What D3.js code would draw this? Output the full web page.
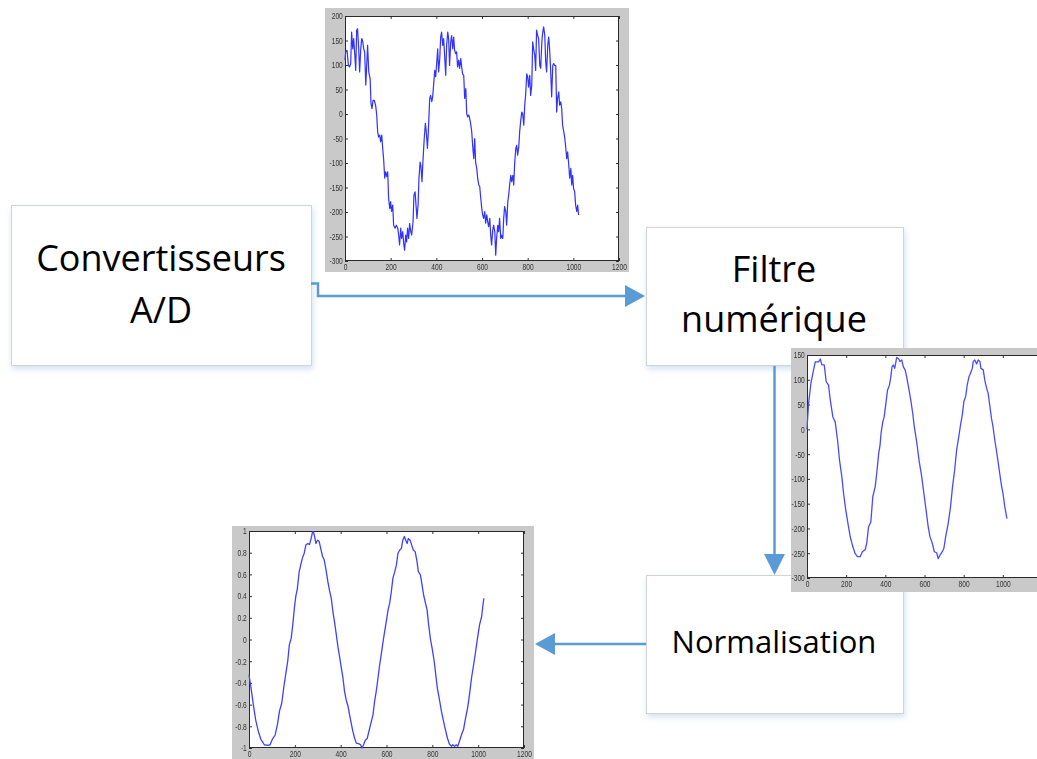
<!DOCTYPE html>
<html>
<head>
<meta charset="utf-8">
<script src="https://cdn.jsdelivr.net/npm/d3@7"></script>
<style>
  html, body { margin: 0; padding: 0; background: #ffffff; }
  svg { display: block; }
</style>
</head>
<body>
<svg id="chart" width="1037" height="759"></svg>
<script>
// ---- Signal data: [sample index, amplitude] ----
const rawSignal = [
  [0,110],[3,127],[9,130],[15,99],[20,96],[25,103],[29,167],[34,133],[38,154],[42,127],[47,89],
  [51,171],[55,174],[60,133],[64,86],[69,133],[73,154],[77,150],[82,133],[86,127],[91,59],
  [95,99],[99,140],[104,86],[110,72],[114,21],[118,11],[123,28],[128,28],[134,18],[139,-2],
  [143,-36],[147,-47],[152,-43],[156,-57],[161,-43],[165,-70],[169,-91],[174,-131],[178,-118],
  [183,-128],[187,-118],[191,-172],[196,-193],[200,-179],[204,-199],[209,-186],[213,-227],
  [219,-233],[225,-227],[231,-233],[235,-247],[239,-267],[244,-233],[248,-254],[253,-240],
  [257,-264],[261,-278],[266,-247],[270,-261],[274,-233],[279,-254],[283,-223],[288,-240],
  [292,-247],[298,-220],[302,-165],[307,-159],[311,-186],[315,-213],[320,-186],[324,-131],
  [329,-98],[333,-108],[337,-138],[342,-91],[347,-50],[352,-19],[356,-36],[361,-70],[365,-36],
  [371,32],[375,38],[380,25],[384,35],[388,59],[393,89],[397,76],[402,106],[406,133],[410,86],
  [415,113],[419,157],[423,167],[428,140],[432,154],[437,113],[441,79],[445,140],[450,167],
  [454,154],[458,99],[463,147],[467,160],[472,133],[476,157],[480,130],[485,123],[489,127],
  [493,96],[498,110],[502,93],[507,113],[511,96],[515,82],[520,79],[524,32],[529,52],[533,1],
  [537,-6],[542,-2],[546,-9],[550,-19],[555,-36],[559,-64],[564,-91],[568,-50],[572,-98],
  [577,-111],[581,-131],[586,-145],[590,-148],[594,-169],[599,-193],[603,-206],[607,-213],
  [612,-199],[616,-223],[621,-206],[625,-220],[629,-230],[634,-213],[638,-247],[642,-267],
  [647,-237],[651,-227],[656,-240],[660,-288],[664,-254],[669,-227],[673,-240],[677,-213],
  [682,-254],[686,-247],[691,-254],[695,-213],[699,-189],[704,-199],[708,-227],[713,-179],
  [717,-165],[721,-145],[726,-125],[730,-138],[735,-125],[739,-145],[743,-101],[748,-70],
  [752,-64],[756,-84],[761,-67],[765,-36],[769,-16],[774,4],[778,1],[783,-23],[787,18],
  [791,38],[796,82],[800,76],[804,55],[809,79],[813,38],[818,59],[822,147],[826,133],[831,120],
  [835,89],[839,171],[844,160],[848,154],[853,99],[857,93],[862,147],[866,167],[870,178],
  [875,160],[879,106],[883,86],[888,140],[892,157],[896,133],[901,86],[905,35],[910,99],
  [914,103],[918,99],[923,99],[927,4],[931,32],[936,45],[940,18],[945,25],[949,11],[953,-23],
  [958,-36],[962,-47],[967,-70],[971,-91],[975,-77],[980,-104],[984,-131],[989,-111],
  [993,-145],[997,-125],[1001,-152],[1006,-159],[1010,-186],[1015,-199],[1019,-186],[1023,-206]
];

const filteredSignal = [
  [0,0],[8,52],[20,93],[30,113],[42,136],[59,136],[68,142],[76,130],[88,130],[98,96],[110,89],
  [119,59],[132,25],[144,15],[156,-22],[166,-62],[178,-96],[187,-130],[198,-163],[212,-197],
  [221,-217],[232,-234],[246,-251],[258,-257],[271,-257],[283,-247],[297,-243],[305,-230],
  [314,-197],[326,-187],[336,-136],[348,-116],[356,-89],[366,-49],[373,-32],[378,-8],[387,15],
  [394,25],[404,56],[411,79],[421,89],[428,106],[434,126],[441,130],[448,123],[458,145],
  [467,143],[475,137],[484,140],[492,126],[501,120],[509,106],[518,86],[530,59],[540,32],
  [548,5],[560,-25],[572,-62],[586,-96],[597,-130],[608,-163],[619,-197],[628,-217],[640,-230],
  [650,-247],[662,-249],[670,-261],[679,-254],[691,-247],[699,-240],[708,-217],[721,-190],
  [733,-156],[743,-116],[754,-82],[764,-42],[776,-12],[784,9],[793,29],[801,56],[810,66],
  [818,89],[827,106],[835,113],[844,123],[849,137],[857,140],[866,132],[874,140],[883,137],
  [888,123],[900,120],[908,99],[917,83],[925,73],[934,46],[942,22],[950,5],[959,-22],[967,-42],
  [976,-66],[984,-89],[993,-113],[1001,-130],[1010,-156],[1021,-180]
];

const normalizedSignal = [
  [0,-0.325],[9,-0.45],[19,-0.60],[29,-0.74],[41,-0.85],[52,-0.92],[67,-0.97],[82,-0.975],
  [92,-0.97],[102,-0.92],[114,-0.88],[124,-0.785],[133,-0.66],[143,-0.585],[153,-0.42],
  [160,-0.325],[169,-0.20],[176,-0.05],[184,0.01],[191,0.135],[198,0.29],[204,0.395],
  [211,0.47],[219,0.625],[226,0.69],[233,0.75],[241,0.795],[248,0.87],[257,0.885],[264,0.875],
  [271,0.93],[277,0.99],[281,0.995],[286,0.95],[292,0.885],[299,0.915],[306,0.905],[313,0.84],
  [321,0.765],[328,0.735],[335,0.655],[344,0.535],[351,0.455],[359,0.38],[366,0.26],
  [373,0.165],[381,0.045],[388,-0.065],[395,-0.155],[402,-0.25],[410,-0.355],[417,-0.48],
  [424,-0.555],[432,-0.615],[439,-0.695],[446,-0.77],[453,-0.845],[461,-0.91],[468,-0.955],
  [478,-0.96],[487,-0.97],[493,-1.0],[500,-0.97],[507,-0.93],[516,-0.91],[525,-0.83],
  [534,-0.755],[541,-0.695],[548,-0.57],[555,-0.48],[563,-0.355],[570,-0.235],[577,-0.14],
  [585,-0.02],[592,0.075],[599,0.165],[607,0.275],[614,0.335],[621,0.44],[628,0.565],
  [636,0.625],[643,0.685],[650,0.795],[658,0.825],[665,0.84],[671,0.915],[678,0.95],
  [684,0.915],[690,0.885],[695,0.93],[703,0.915],[710,0.87],[717,0.825],[725,0.81],[732,0.735],
  [739,0.625],[748,0.595],[755,0.505],[762,0.41],[770,0.335],[777,0.275],[784,0.135],[792,0.0],
  [799,-0.08],[808,-0.20],[815,-0.325],[822,-0.45],[831,-0.555],[840,-0.665],[849,-0.755],
  [857,-0.83],[866,-0.91],[875,-0.965],[884,-0.985],[889,-0.97],[897,-0.985],[904,-0.97],
  [911,-0.985],[918,-0.94],[927,-0.88],[936,-0.83],[945,-0.725],[954,-0.63],[962,-0.51],
  [971,-0.355],[980,-0.235],[989,-0.11],[997,0.01],[1006,0.135],[1015,0.21],[1021,0.32],[1025,0.38]
];

// ---- Tick values ----
const sampleTicks = [0, 200, 400, 600, 800, 1000, 1200];
const rawTicks = [200, 150, 100, 50, 0, -50, -100, -150, -200, -250, -300];
const filteredTicks = [150, 100, 50, 0, -50, -100, -150, -200, -250, -300];
const normTicks = [1, 0.8, 0.6, 0.4, 0.2, 0, -0.2, -0.4, -0.6, -0.8, -1];

// ---- Block labels ----
const blockLabels = [["Convertisseurs", "A/D"], ["Filtre", "numérique"], ["Normalisation"]];

const svg = d3.select("#chart");
const defs = svg.append("defs");

const shadow = defs.append("filter").attr("id", "boxShadow")
  .attr("x", "-10%").attr("y", "-10%").attr("width", "125%").attr("height", "130%");
shadow.append("feDropShadow")
  .attr("dx", 1).attr("dy", 3).attr("stdDeviation", 3)
  .attr("flood-color", "#7fa7d4").attr("flood-opacity", 0.35);

const soft = defs.append("filter").attr("id", "soft");
soft.append("feGaussianBlur").attr("stdDeviation", 0.35);

const ARROW = "#5b9bd5";

// ---- Processing blocks ----
const blocks = [
  { x: 11, y: 205, w: 300, h: 160, cx: 161, size: 36, baselines: [271, 323] },
  { x: 646, y: 227, w: 257, h: 138, cx: 774, size: 36, baselines: [282, 332] },
  { x: 646, y: 575, w: 257, h: 138, cx: 774, size: 31, baselines: [653] }
];

function drawBlock(b, lines) {
  const g = svg.append("g");
  g.append("rect")
    .attr("x", b.x + 0.5).attr("y", b.y + 0.5)
    .attr("width", b.w).attr("height", b.h)
    .attr("fill", "#ffffff").attr("stroke", "#d4d4d4").attr("stroke-width", 1)
    .attr("filter", "url(#boxShadow)");
  lines.forEach((t, i) => {
    g.append("text")
      .attr("x", b.cx).attr("y", b.baselines[i])
      .attr("text-anchor", "middle")
      .attr("font-family", "'Open Sans', 'Noto Sans', sans-serif")
      .attr("font-size", b.size)
      .attr("fill", "#000000")
      .text(t);
  });
}

// ---- Small signal plots ----
function drawPlot(cfg, data, yTicks, yDomain) {
  const g = svg.append("g").attr("filter", "url(#soft)");
  const p = cfg.panel, a = cfg.axes;
  g.append("rect").attr("x", p.x).attr("y", p.y).attr("width", p.w).attr("height", p.h)
    .attr("fill", "#c9c9c9");
  g.append("rect").attr("x", a.left).attr("y", a.top)
    .attr("width", a.right - a.left).attr("height", a.bottom - a.top)
    .attr("fill", "#ffffff");

  const x = d3.scaleLinear().domain([0, 1200]).range([a.left, a.right]);
  const y = d3.scaleLinear().domain(yDomain).range([a.bottom, a.top]);

  const styleAxis = (sel, labels) => {
    sel.select(".domain").remove();
    sel.selectAll("line").attr("stroke", "#333");
    sel.selectAll("text")
      .attr("fill", "#333333")
      .attr("font-family", "'Liberation Sans', Arial, sans-serif")
      .attr("font-size", 9)
      .attr("transform", "scale(0.74,1)");
    if (!labels) sel.selectAll("text").remove();
  };

  // sample axis labels; the last one may run past the page edge, as the panel does
  const xLabelTicks = sampleTicks.filter(v => x(v) + 8 <= 1037);

  g.append("g").attr("transform", `translate(0,${a.bottom})`)
    .call(d3.axisBottom(x).tickValues(xLabelTicks).tickFormat(String)
      .tickSizeInner(-3).tickSizeOuter(0).tickPadding(3))
    .call(s => styleAxis(s, true));
  g.append("g").attr("transform", `translate(0,${a.top})`)
    .call(d3.axisTop(x).tickValues(sampleTicks).tickSizeInner(-3).tickSizeOuter(0))
    .call(s => styleAxis(s, false));
  g.append("g").attr("transform", `translate(${a.left},0)`)
    .call(d3.axisLeft(y).tickValues(yTicks).tickFormat(String)
      .tickSizeInner(-3).tickSizeOuter(0).tickPadding(3))
    .call(s => styleAxis(s, true));
  g.append("g").attr("transform", `translate(${a.right},0)`)
    .call(d3.axisRight(y).tickValues(yTicks).tickSizeInner(-3).tickSizeOuter(0))
    .call(s => styleAxis(s, false));

  g.append("rect").attr("x", a.left + 0.5).attr("y", a.top + 0.5)
    .attr("width", a.right - a.left - 1).attr("height", a.bottom - a.top - 1)
    .attr("fill", "none").attr("stroke", "#2a2a2a").attr("stroke-width", 1);

  const line = d3.line().x(d => x(d[0])).y(d => y(d[1]));
  g.append("path").datum(data)
    .attr("d", line)
    .attr("fill", "none")
    .attr("stroke", cfg.color)
    .attr("stroke-width", cfg.width)
    .attr("stroke-linejoin", "round");
}

// ---- Connectors ----
function arrowHead(tip, dir, len, half) {
  const [tx, ty] = tip;
  let pts;
  if (dir === "right") pts = [[tx, ty], [tx - len, ty - half], [tx - len, ty + half]];
  else if (dir === "down") pts = [[tx, ty], [tx - half, ty - len], [tx + half, ty - len]];
  else pts = [[tx, ty], [tx + len, ty - half], [tx + len, ty + half]];
  svg.append("path").attr("d", d3.line()(pts) + "Z").attr("fill", ARROW);
}

// blocks first, plots on top of them
drawBlock(blocks[0], blockLabels[0]);
drawBlock(blocks[1], blockLabels[1]);
drawBlock(blocks[2], blockLabels[2]);

// A/D -> filter
svg.append("path")
  .attr("d", d3.line()([[311, 283.5], [318, 283.5], [318, 296], [627, 296]]))
  .attr("fill", "none").attr("stroke", ARROW).attr("stroke-width", 2.5);
arrowHead([645, 296], "right", 20, 11);

// filter -> normalisation
svg.append("path")
  .attr("d", d3.line()([[774.5, 366], [774.5, 556]]))
  .attr("fill", "none").attr("stroke", ARROW).attr("stroke-width", 2.5);
arrowHead([774.5, 575], "down", 21, 10.5);

// normalisation -> output
svg.append("path")
  .attr("d", d3.line()([[646, 644], [553, 644]]))
  .attr("fill", "none").attr("stroke", ARROW).attr("stroke-width", 2.5);
arrowHead([535, 644], "left", 20, 11);

drawPlot({
  panel: { x: 325, y: 8, w: 304, h: 264 },
  axes: { left: 345, right: 619, top: 16, bottom: 261 },
  color: "#3030ff", width: 1.2
}, rawSignal, rawTicks, [-300, 200]);

drawPlot({
  panel: { x: 791, y: 348, w: 246, h: 244 },
  axes: { left: 807, right: 1042, top: 355, bottom: 578 },
  color: "#4a4aff", width: 1.3
}, filteredSignal, filteredTicks, [-300, 150]);

drawPlot({
  panel: { x: 232, y: 526, w: 302, h: 240 },
  axes: { left: 249, right: 524, top: 531, bottom: 748 },
  color: "#4040ff", width: 1.3
}, normalizedSignal, normTicks, [-1, 1]);
</script>
</body>
</html>
